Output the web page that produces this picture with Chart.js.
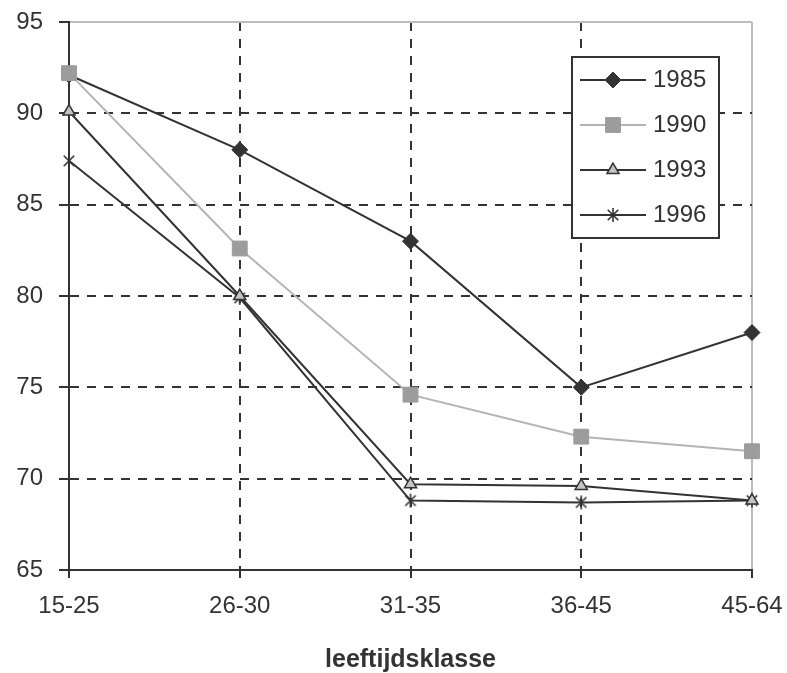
<!DOCTYPE html>
<html>
<head>
<meta charset="utf-8">
<script src="https://cdn.jsdelivr.net/npm/chart.js@4.4.0/dist/chart.umd.min.js"></script>
<style>
  html, body { margin: 0; padding: 0; background: #fff; }
  #wrap { width: 787px; height: 673px; }
</style>
</head>
<body>
<div id="wrap"><canvas id="chart" width="787" height="673"></canvas></div>
<script>
// data
const categories = ["15-25", "26-30", "31-35", "36-45", "45-64"];
const years = ["1985", "1990", "1993", "1996"];
const v1985 = [92.1, 88.0, 83.0, 75.0, 78.0];
const v1990 = [92.2, 82.6, 74.6, 72.3, 71.5];
const v1993 = [90.1, 80.0, 69.7, 69.6, 68.8];
const v1996 = [87.4, 79.9, 68.8, 68.7, 68.8];
const yTicks = [65, 70, 75, 80, 85, 90, 95];

const dark = "#333333";
const FONT = "'Liberation Sans', Arial, sans-serif";

// excel style "star" marker: x with a vertical bar
const starMark = (size, color) => {
  const c = document.createElement("canvas");
  c.width = size; c.height = size;
  const g = c.getContext("2d");
  const m = size / 2, r = size / 2 - 1, d = r * 0.75;
  g.strokeStyle = color;
  g.lineWidth = 1.6;
  g.beginPath();
  g.moveTo(m - d, m - d); g.lineTo(m + d, m + d);
  g.moveTo(m + d, m - d); g.lineTo(m - d, m + d);
  g.moveTo(m, m - r); g.lineTo(m, m + r);
  g.stroke();
  return c;
};

// boxed legend sitting inside the plot, like the original
const boxLegend = {
  id: "boxLegend",
  afterDraw(chart, args, opts) {
    const ctx = chart.ctx;
    ctx.save();
    ctx.fillStyle = "#fff";
    ctx.fillRect(opts.left, opts.top, opts.width, opts.height);
    ctx.lineWidth = 2;
    ctx.strokeStyle = dark;
    ctx.strokeRect(opts.left, opts.top, opts.width, opts.height);
    chart.data.datasets.forEach((ds, i) => {
      const y = opts.top + opts.firstRow + i * opts.rowGap;
      const x0 = opts.left + opts.lineStart, x1 = x0 + opts.lineLen;
      ctx.strokeStyle = ds.borderColor;
      ctx.lineWidth = ds.borderWidth;
      ctx.beginPath(); ctx.moveTo(x0, y); ctx.lineTo(x1, y); ctx.stroke();
      ctx.fillStyle = ds.pointBackgroundColor;
      ctx.strokeStyle = ds.pointBorderColor;
      ctx.lineWidth = ds.pointBorderWidth;
      Chart.helpers.drawPoint(ctx, {
        pointStyle: ds.pointStyle, radius: ds.pointRadius,
        rotation: 0, borderWidth: ds.pointBorderWidth
      }, (x0 + x1) / 2, y);
      ctx.fillStyle = dark;
      ctx.font = "24px " + FONT;
      ctx.textBaseline = "middle";
      ctx.textAlign = "left";
      ctx.fillText(ds.label, x1 + 7, y);
    });
    ctx.restore();
  }
};

const chart = new Chart(document.getElementById("chart").getContext("2d"), {
  type: "line",
  data: {
    labels: categories,
    datasets: [
      {
        label: years[0], data: v1985, order: 1,
        borderColor: dark, borderWidth: 2,
        pointStyle: "rectRot", pointRadius: 8,
        pointBackgroundColor: dark, pointBorderColor: dark, pointBorderWidth: 1
      },
      {
        label: years[1], data: v1990, order: 0,
        borderColor: "#b4b4b4", borderWidth: 2,
        pointStyle: "rect", pointRadius: 10.5,
        pointBackgroundColor: "#9c9c9c", pointBorderColor: "#9c9c9c", pointBorderWidth: 1
      },
      {
        label: years[2], data: v1993, order: 2,
        borderColor: dark, borderWidth: 2,
        pointStyle: "triangle", pointRadius: 7,
        pointBackgroundColor: "#c4c4c4", pointBorderColor: dark, pointBorderWidth: 1.5
      },
      {
        label: years[3], data: v1996, order: 3,
        borderColor: dark, borderWidth: 2,
        pointStyle: starMark(16, dark), pointRadius: 8,
        pointBackgroundColor: dark, pointBorderColor: dark, pointBorderWidth: 1
      }
    ]
  },
  options: {
    responsive: false,
    animation: false,
    clip: false,
    layout: { padding: { top: 22, right: 35, left: 0, bottom: 0 } },
    elements: { line: { tension: 0 } },
    plugins: {
      legend: { display: false },
      tooltip: { enabled: false },
      boxLegend: {
        left: 572, top: 57, width: 147, height: 181,
        firstRow: 23, rowGap: 45, lineStart: 8, lineLen: 66
      }
    },
    scales: {
      x: {
        offset: false,
        afterFit: (s) => { s.height = 103; s.paddingLeft = 0; s.paddingRight = 0; },
        grid: {
          color: (c) => (c.index === categories.length - 1 ? "#bdbdbd" : dark),
          lineWidth: 2,
          tickLength: 8,
          tickColor: dark
        },
        border: {
          color: dark, width: 2,
          dash: (c) => (c.index === categories.length - 1 ? [] : [9, 8])
        },
        ticks: { color: dark, font: { family: FONT, size: 24 }, padding: 14, maxRotation: 0 },
        title: {
          display: true, text: "leeftijdsklasse", color: dark,
          font: { family: FONT, size: 25, weight: "bold", lineHeight: 1 },
          padding: { top: 0, bottom: 0 }
        }
      },
      y: {
        min: yTicks[0],
        max: yTicks[yTicks.length - 1],
        afterFit: (s) => { s.width = 69; s.paddingTop = 0; s.paddingBottom = 0; },
        afterBuildTicks: (s) => { s.ticks = yTicks.map((v) => ({ value: v })); },
        grid: {
          color: (c) => (c.tick && c.tick.value === yTicks[yTicks.length - 1] ? "#bdbdbd" : dark),
          lineWidth: 2,
          tickLength: 10,
          tickColor: dark
        },
        border: {
          color: dark, width: 2,
          dash: (c) => (c.tick && c.tick.value === yTicks[yTicks.length - 1] ? [] : [9, 8])
        },
        ticks: { color: dark, font: { family: FONT, size: 24 }, padding: 16 }
      }
    }
  },
  plugins: [boxLegend]
});
</script>
</body>
</html>
